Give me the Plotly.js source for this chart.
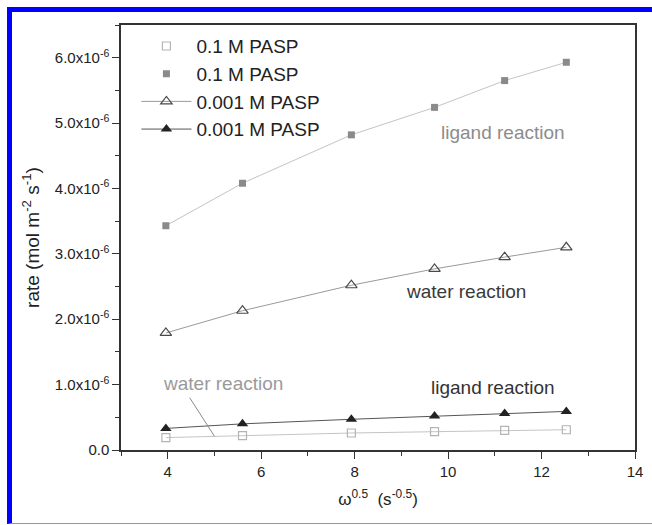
<!DOCTYPE html>
<html>
<head>
<meta charset="utf-8">
<script src="https://cdn.plot.ly/plotly-3.0.1.min.js"></script>
<style>
  html, body { margin: 0; padding: 0; background: #fff; }
  #chart { width: 652px; height: 525px; }
  #frame { position: absolute; left: 7px; top: 7px; width: 645px; height: 517px; box-sizing: border-box;
           border-top: 5px solid #0000ff; border-left: 5px solid #0000ff; border-bottom: 1px solid #8c8cff;
           pointer-events: none; }
</style>
</head>
<body>
<div id="chart"></div>
<div id="frame"></div>
<script>
// ω^0.5 values (s^-0.5)
const omegaSqrt = [3.96, 5.60, 7.93, 9.71, 11.21, 12.53];
// rates (mol m^-2 s^-1)
const water01 = [0.19e-6, 0.22e-6, 0.26e-6, 0.28e-6, 0.30e-6, 0.31e-6];   // 0.1 M PASP, open squares
const ligand01 = [3.43e-6, 4.08e-6, 4.82e-6, 5.24e-6, 5.65e-6, 5.93e-6];  // 0.1 M PASP, filled squares
const water0001 = [1.79e-6, 2.13e-6, 2.52e-6, 2.77e-6, 2.95e-6, 3.10e-6]; // 0.001 M PASP, open triangles
const ligand0001 = [0.33e-6, 0.40e-6, 0.47e-6, 0.52e-6, 0.56e-6, 0.59e-6]; // 0.001 M PASP, filled triangles

const seriesNames = ["0.1 M PASP", "0.1 M PASP", "0.001 M PASP", "0.001 M PASP"];
const yTickVals = [0, 1e-6, 2e-6, 3e-6, 4e-6, 5e-6, 6e-6];
const yTickText = ["0.0", "1.0x10<sup>-6</sup>", "2.0x10<sup>-6</sup>", "3.0x10<sup>-6</sup>",
                   "4.0x10<sup>-6</sup>", "5.0x10<sup>-6</sup>", "6.0x10<sup>-6</sup>"];

const traces = [
  {x: omegaSqrt, y: water01, mode: "lines", line: {color: "#c4c4c4", width: 1}, showlegend: false, hoverinfo: "skip"},
  {x: omegaSqrt, y: ligand01, mode: "lines", line: {color: "#c4c4c4", width: 1}, showlegend: false, hoverinfo: "skip"},
  {x: omegaSqrt, y: water01, mode: "markers", name: seriesNames[0],
   marker: {symbol: "square-open", size: 8, color: "#b4b4b4", line: {width: 1.2}}},
  {x: omegaSqrt, y: ligand01, mode: "markers", name: seriesNames[1],
   marker: {symbol: "square", size: 7, color: "#8a8a8a"}},
  {x: omegaSqrt, y: water0001, mode: "lines+markers", name: seriesNames[2],
   line: {color: "#9a9a9a", width: 1},
   marker: {symbol: "triangle-up-open", size: 10, color: "#4a4a4a", line: {width: 1.2}}},
  {x: omegaSqrt, y: ligand0001, mode: "lines+markers", name: seriesNames[3],
   line: {color: "#555555", width: 1},
   marker: {symbol: "triangle-up", size: 10, color: "#222222"}}
];

const layout = {
  width: 652, height: 525,
  margin: {l: 121, r: 17, t: 25, b: 75},
  paper_bgcolor: "#ffffff", plot_bgcolor: "#ffffff",
  font: {family: "Liberation Sans, Arial, sans-serif", color: "#222"},
  showlegend: true,
  legend: {x: 0.03, y: 0.995, xanchor: "left", yanchor: "top", bgcolor: "rgba(0,0,0,0)",
           font: {size: 19, color: "#222"}, itemwidth: 50, tracegroupgap: 0},
  xaxis: {
    range: [3, 14], tick0: 0, dtick: 2, ticks: "outside", ticklen: 7, tickwidth: 1.2, tickcolor: "#333",
    minor: {dtick: 1, ticks: "outside", ticklen: 4, tickcolor: "#333"},
    showline: true, mirror: true, linecolor: "#333", linewidth: 1.5, showgrid: false, zeroline: false,
    tickfont: {size: 15, color: "#222"},
    title: {text: "ω<sup>0.5</sup>  (s<sup>-0.5</sup>)", font: {size: 17, color: "#222"}, standoff: 14}
  },
  yaxis: {
    range: [0, 6.5e-6], tickmode: "array", tickvals: yTickVals, ticktext: yTickText,
    ticks: "outside", ticklen: 7, tickwidth: 1.2, tickcolor: "#333",
    minor: {dtick: 0.5e-6, tick0: 0, ticks: "outside", ticklen: 4, tickcolor: "#333"},
    showline: true, mirror: true, linecolor: "#333", linewidth: 1.5, showgrid: false, zeroline: false,
    tickfont: {size: 15, color: "#222"},
    title: {text: "rate (mol m<sup>-2</sup> s<sup>-1</sup>)", font: {size: 19, color: "#222"}, standoff: 10}
  },
  annotations: [
    {x: 9.8, y: 4.85e-6, xref: "x", yref: "y", text: "ligand reaction", showarrow: false,
     xanchor: "left", yanchor: "middle", font: {size: 19, color: "#8c8c8c"}},
    {x: 9.05, y: 2.42e-6, xref: "x", yref: "y", text: "water reaction", showarrow: false,
     xanchor: "left", yanchor: "middle", font: {size: 19, color: "#3a3a3a"}},
    {x: 9.6, y: 0.95e-6, xref: "x", yref: "y", text: "ligand reaction", showarrow: false,
     xanchor: "left", yanchor: "middle", font: {size: 19, color: "#333333"}},
    {x: 3.85, y: 1.01e-6, xref: "x", yref: "y", text: "water reaction", showarrow: false,
     xanchor: "left", yanchor: "middle", font: {size: 19, color: "#9a9a9a"}}
  ],
  shapes: [
    {type: "line", xref: "x", yref: "y", x0: 4.47, y0: 0.80e-6, x1: 5.0, y1: 0.21e-6,
     line: {color: "#8a8a8a", width: 1}}
  ]
};

Plotly.newPlot("chart", traces, layout, {displayModeBar: false});
</script>
</body>
</html>
